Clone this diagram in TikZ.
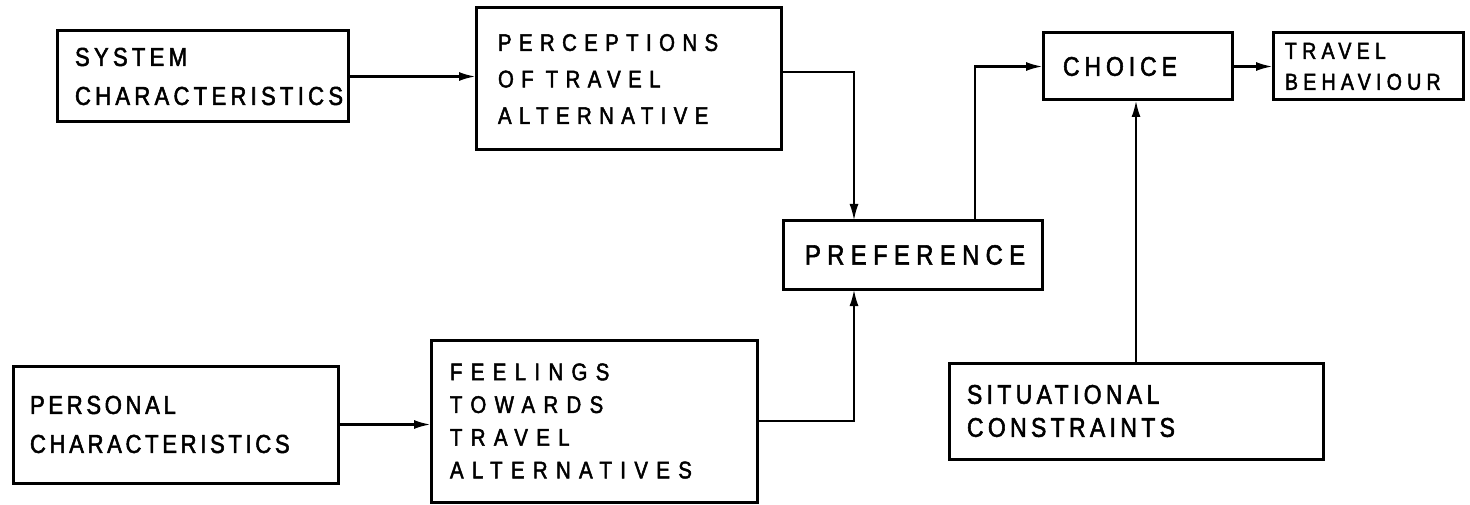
\documentclass[tikz,border=0pt]{standalone}
\usepackage{fontspec}
\setmainfont{Liberation Sans}
\newfontfamily\lett[FakeStretch=0.85,FakeBold=2]{Liberation Sans}
\usetikzlibrary{arrows.meta}

% lettering: size, baseline skip, tracking
\newcommand\lettering[3]{\lett\fontsize{#1}{#2}\selectfont\addfontfeatures{LetterSpace=#3}}

\tikzset{
  blk/.style={draw, line width=3pt, rectangle, anchor=north west,
    align=left, inner ysep=0pt, outer sep=0pt},
  arr/.style={line width=2.6pt, -{Latex[length=17pt,width=9pt]}},
}

\begin{document}
\begin{tikzpicture}[x=1pt,y=-1pt]
\useasboundingbox (0,0) rectangle (1470,505);

% blocks: corner, width, height, left padding
\node[blk, minimum height=91pt, text width=255pt, inner xsep=18pt,
  font=\lettering{26}{39}{16.3}] (sys) at (57,31)
  {SYSTEM\\CHARACTERISTICS};
\node[blk, minimum height=142pt, text width=261pt, inner xsep=22pt,
  font=\lettering{24}{36.5}{30.8}] (perc) at (476,8)
  {PERCEPTIONS\\OF\hspace*{12pt}TRAVEL\\ALTERNATIVE};
\node[blk, minimum height=68pt, text width=215pt, inner xsep=22pt,
  font=\lettering{28}{30}{22.8}] (pref) at (783,221)
  {PREFERENCE};
\node[blk, minimum height=67pt, text width=149pt, inner xsep=20pt,
  font=\lettering{27}{30}{18.3}] (choice) at (1043,33)
  {CHOICE};
\node[blk, minimum height=67pt, text width=166pt, inner xsep=12pt,
  font=\lettering{23}{31}{22.8}] (tb) at (1273,33)
  {TRAVEL\\BEHAVIOUR};
\node[blk, minimum height=117pt, text width=291pt, inner xsep=17pt,
  font=\lettering{26}{39}{14}] (pers) at (13,366)
  {PERSONAL\\CHARACTERISTICS};
\node[blk, minimum height=162pt, text width=288pt, inner xsep=19pt,
  font=\lettering{24}{32.7}{34.8}] (feel) at (431,340)
  {FEELINGS\\TOWARDS\\TRAVEL\\ALTERNATIVES};
\node[blk, minimum height=96pt, text width=338pt, inner xsep=18pt,
  font=\lettering{27}{33}{16.1}] (sit) at (949,363)
  {SITUATIONAL\\CONSTRAINTS};

% routing columns and rows
\coordinate (j1) at (854,72);
\coordinate (j2) at (975,70);

% connectors
\draw[arr] (sys.east) -- (sys.east -| perc.west);
\draw[arr] (perc.east |- j1) -| (pref.north -| j1);
\draw[arr] (pers.east) -- (pers.east -| feel.west);
\draw[arr] (feel.east) -| (pref.south -| j1);
\draw[arr] (pref.north -| j2) |- (choice.west);
\draw[arr] (choice.east) -- (choice.east -| tb.west);
\draw[arr] (sit.north) -- (sit.north |- choice.south);
\end{tikzpicture}
\end{document}
